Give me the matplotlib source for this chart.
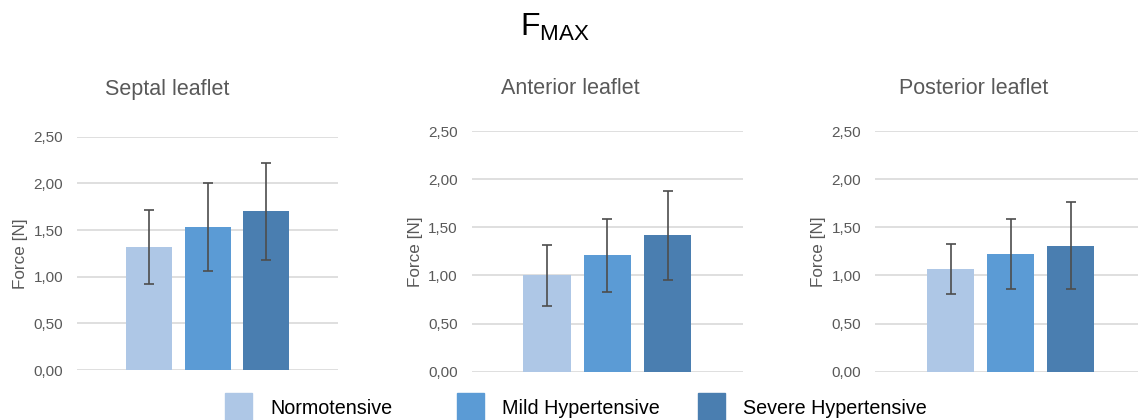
import matplotlib.pyplot as plt
from matplotlib.patches import Rectangle
import numpy as np

plt.rcParams['font.family'] = ['Liberation Sans', 'DejaVu Sans']

groups = ["Normotensive", "Mild Hypertensive", "Severe Hypertensive"]
colores = ["#aec7e6", "#5b9bd5", "#4a7eb0"]
paneles = ["Septal leaflet", "Anterior leaflet", "Posterior leaflet"]

# valores medios y desviaciones (N)
septal = [1.32, 1.535, 1.70]
septal_err = [0.40, 0.47, 0.52]
anterior = [1.00, 1.21, 1.415]
anterior_err = [0.315, 0.38, 0.465]
posterior = [1.07, 1.22, 1.31]
posterior_err = [0.26, 0.365, 0.45]

ticks = [0, 0.5, 1.0, 1.5, 2.0, 2.5]
tick_labels = ["0,00", "0,50", "1,00", "1,50", "2,00", "2,50"]

valores = [septal, anterior, posterior]
errores = [septal_err, anterior_err, posterior_err]

W, H = 1138, 420
fig = plt.figure(figsize=(W / 100, H / 100), dpi=100)
posiciones = [
    [0.0677, 0.119, 0.2293, 0.5555],
    [0.4145, 0.115, 0.2384, 0.573],
    [0.7689, 0.115, 0.2311, 0.573],
]
limites = [(-1.24, 3.24), (-1.255, 3.255), (-1.26, 3.12)]
titulo_x = [105, 501, 899]

x = np.arange(3)
gris = "#595959"
for i in range(3):
    ax = fig.add_axes(posiciones[i])
    ax.bar(x, valores[i], width=0.79, color=colores, zorder=2)
    ax.errorbar(x, valores[i], yerr=errores[i], fmt="none", ecolor="#4d4d4d",
                elinewidth=1.2, capsize=3.6, capthick=1.2, zorder=3)
    ax.set_ylim(0, 2.5)
    ax.set_xlim(limites[i])
    ax.set_yticks(ticks)
    ax.set_yticklabels(tick_labels, color=gris, fontsize=11)
    ax.set_xticks([])
    ax.yaxis.grid(True, color="#d9d9d9", linewidth=1.2, zorder=0)
    ax.tick_params(axis="y", length=0, pad=10)
    for s in ax.spines.values():
        s.set_visible(False)
    ax.set_ylabel("Force [N]", color=gris, fontsize=12.3, labelpad=4)
    fig.text(titulo_x[i] / W, 1 - 89 / H, paneles[i], color=gris, fontsize=15.5,
             ha="left", va="center")

fig.text(0.488, 0.935, r"$\mathregular{F_{MAX}}$", fontsize=23, ha="center", va="center")

# leyenda inferior, columnas de ancho fijo como en Excel
leyenda_x = [225, 457, 698]
for i in range(3):
    fig.patches.append(Rectangle((leyenda_x[i] / W, 0), 27 / W, 27 / H,
                                 transform=fig.transFigure, color=colores[i]))
    fig.text((leyenda_x[i] + 45) / W, 1 - 409 / H, groups[i], fontsize=14.2,
             color="black", ha="left", va="center")

fig.savefig("out.png", dpi=100)
